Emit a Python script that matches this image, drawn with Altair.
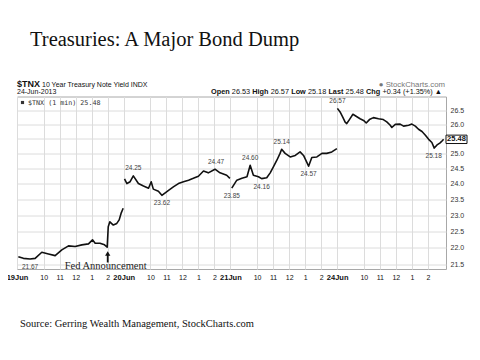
import altair as alt
import pandas as pd

# ---------------- data ----------------
title_text = "Treasuries: A Major Bond Dump"
source_text = "Source: Gerring Wealth Management, StockCharts.com"
day_labels = ["19Jun", "20Jun", "21Jun", "24Jun"]
hour_ticks = [10, 11, 12, 13, 14]
hour_labels = ["10", "11", "12", "1", "2"]
y_ticks = [21.5, 22.0, 22.5, 23.0, 23.5, 24.0, 24.5, 25.0, 25.5, 26.0, 26.5]

times_19 = ["08:25", "08:44", "09:09", "09:28", "09:53", "10:18", "10:43", "11:08", "11:33", "11:58",
            "12:23", "12:48", "13:03", "13:13", "13:31", "13:48", "13:58", "14:02", "14:08", "14:21",
            "14:34", "14:43", "14:50", "14:58"]
yield_19 = [21.74, 21.69, 21.67, 21.69, 21.87, 21.82, 21.77, 21.94, 22.06, 22.04,
            22.09, 22.12, 22.24, 22.14, 22.14, 22.09, 22.02, 22.64, 22.79, 22.69,
            22.74, 22.85, 23.05, 23.21]

times_20 = ["08:23", "08:32", "08:44", "08:56", "09:15", "09:34", "09:53", "10:03", "10:11", "10:30",
            "10:43", "11:08", "11:26", "11:45", "12:04", "12:23", "12:41", "13:00", "13:19", "13:37",
            "14:02", "14:21", "14:46", "14:58"]
yield_20 = [24.15, 24.00, 24.06, 24.25, 24.00, 23.92, 23.85, 24.06, 23.82, 23.75,
            23.62, 23.78, 23.89, 24.00, 24.06, 24.11, 24.17, 24.24, 24.41, 24.35,
            24.47, 24.35, 24.27, 24.17]

times_21 = ["08:25", "08:44", "09:03", "09:22", "09:34", "09:46", "10:05", "10:17", "10:36", "10:49",
            "11:01", "11:14", "11:26", "11:32", "11:45", "12:04", "12:23", "12:41", "12:54", "13:13",
            "13:25", "13:44", "14:03", "14:21", "14:40", "14:59"]
yield_21 = [23.85, 24.11, 24.17, 24.22, 24.60, 24.27, 24.22, 24.16, 24.19, 24.35,
            24.55, 24.77, 25.00, 25.14, 25.00, 24.88, 24.93, 25.05, 24.93, 24.57,
            24.86, 24.88, 25.00, 25.00, 25.05, 25.16]

times_24 = ["08:21", "08:31", "08:41", "08:50", "08:56", "09:06", "09:19", "09:31", "09:46", "09:59",
            "10:09", "10:21", "10:36", "10:55", "11:13", "11:26", "11:39", "11:45", "11:58", "12:16",
            "12:29", "12:48", "13:00", "13:13", "13:25", "13:38", "13:50", "14:03", "14:15", "14:24",
            "14:36", "14:46", "14:55", "14:59"]
yield_24 = [26.57, 26.44, 26.26, 26.08, 26.03, 26.17, 26.36, 26.29, 26.20, 26.14,
            26.05, 26.17, 26.24, 26.20, 26.17, 26.09, 25.97, 25.89, 26.00, 26.01,
            25.94, 25.97, 26.01, 25.94, 25.83, 25.75, 25.63, 25.48, 25.37, 25.18,
            25.30, 25.36, 25.44, 25.48]

ann_day = [0, 1, 1, 1, 2, 2, 2, 2, 2, 3, 3]
ann_time = ["09:09", "08:56", "10:43", "14:06", "08:25", "09:34", "10:17", "11:32", "13:13", "08:21", "14:22"]
ann_value = [21.67, 24.25, 23.62, 24.47, 23.85, 24.60, 24.16, 25.14, 24.57, 26.57, 25.18]
ann_kind = ["low", "high", "low", "high", "low", "high", "low", "high", "low", "high", "low"]

fed_day, fed_time, fed_label = 0, "14:00", "Fed Announcement"
last_value = 25.48

header_left = ["$TNX", "10 Year Treasury Note Yield INDX"]
date_text = "24-Jun-2013"
quote_words = ["Open", "26.53", "High", "26.57", "Low", "25.18", "Last", "25.48", "Chg", "+0.34 (+1.35%) \u25b2"]
legend_text = "$TNX (1 min) 25.48"
brand_text = "\u25cf StockCharts.com"

# ---------------- helpers ----------------
SESSION_START = 8 + 20 / 60
SESSION_LEN = 15 - SESSION_START


def pos(day, t):
    h, m = map(int, t.split(":"))
    return day * SESSION_LEN + h + m / 60 - SESSION_START


rows = []
for d, (ts, vs) in enumerate([(times_19, yield_19), (times_20, yield_20),
                              (times_21, yield_21), (times_24, yield_24)]):
    for t, v in zip(ts, vs):
        rows.append({"pos": pos(d, t), "value": v, "day": day_labels[d]})
df = pd.DataFrame(rows)

ann_df = pd.DataFrame({
    "pos": [pos(d, t) for d, t in zip(ann_day, ann_time)],
    "value": ann_value,
    "label": [f"{v:.2f}" for v in ann_value],
    "kind": ann_kind,
})

tick_vals, tick_text, day_starts = [], [], []
for d, lab in enumerate(day_labels):
    p0 = d * SESSION_LEN
    tick_vals.append(round(p0, 4)); tick_text.append(lab); day_starts.append(round(p0, 4))
    for h, hl in zip(hour_ticks, hour_labels):
        tick_vals.append(round(p0 + h - SESSION_START, 4)); tick_text.append(hl)

label_expr = ""
for v, t in zip(tick_vals, tick_text):
    label_expr += f"abs(datum.value - {v}) < 0.01 ? '{t}' : "
label_expr += "''"
bold_test = " || ".join(f"abs(datum.value - {v}) < 0.01" for v in day_starts)

W, H = 429, 172.5
FONT = "Liberation Sans"

x_scale = alt.Scale(domain=[0, 26.8], nice=False, zero=False)
y_scale = alt.Scale(type="log", domain=[21.38, 27.0], nice=False, zero=False)

x_axis = alt.Axis(values=tick_vals, labelExpr=label_expr, grid=True, gridColor="#dcdcdc",
                  tickSize=0, domain=False, labelPadding=4, labelFont=FONT,
                  labelFontSize={"condition": {"test": bold_test, "value": 7.5}, "value": 7},
                  labelFontWeight={"condition": {"test": bold_test, "value": "bold"}, "value": "normal"},
                  labelColor="#111", labelOverlap=False, labelFlush=False, title=None)
y_axis = alt.Axis(orient="right", values=y_ticks,
                  labelExpr="datum.value == 25.5 ? '' : format(datum.value, '.1f')",
                  grid=True, gridColor="#dcdcdc", tickSize=0, domain=False, labelPadding=4,
                  labelFont=FONT, labelFontSize=7, labelColor="#333", labelOverlap=False,
                  labelFlush=False, title=None)

X = alt.X("pos:Q", scale=x_scale, axis=x_axis)
Y = alt.Y("value:Q", scale=y_scale, axis=y_axis)

line = alt.Chart(df).mark_line(color="#111", strokeWidth=1.6, strokeJoin="round").encode(
    x=X, y=Y, detail="day:N")

highs = alt.Chart(ann_df[ann_df.kind == "high"]).mark_text(
    dy=-7.5, fontSize=6.5, font=FONT, color="#444", baseline="middle").encode(x=X, y=Y, text="label:N")
lows = alt.Chart(ann_df[ann_df.kind == "low"]).mark_text(
    dy=8, fontSize=6.5, font=FONT, color="#444", baseline="middle").encode(x=X, y=Y, text="label:N")

fed_df = pd.DataFrame({"pos": [pos(fed_day, fed_time)], "label": [fed_label]})
fed_rule = alt.Chart(fed_df).mark_rule(color="#111", strokeWidth=1.8).encode(
    x=X, y=alt.value(158), y2=alt.value(166))
fed_head = alt.Chart(fed_df).mark_point(shape="triangle-up", filled=True, size=28, color="#111",
                                        opacity=1).encode(x=X, y=alt.value(157))
fed_text = alt.Chart(fed_df).mark_text(font="Liberation Serif", fontSize=10.5, color="#222",
                                       baseline="middle", dx=-2).encode(
    x=X, y=alt.value(169.5), text="label:N")

last_df = pd.DataFrame({"value": [last_value], "label": [f"{last_value:.2f}"]})
last_box = alt.Chart(last_df).mark_point(
    shape="M-1,-0.4L1,-0.4L1,0.4L-1,0.4Z", size=441, filled=True, fill="white",
    stroke="#111", strokeWidth=1, opacity=1).encode(x=alt.value(439.5), y=Y)
last_txt = alt.Chart(last_df).mark_text(fontSize=7.5, fontWeight="bold", font=FONT, color="#111",
                                        baseline="middle").encode(x=alt.value(439.5), y=Y, text="label:N")


def label(text, x, y, size, weight="normal", font=FONT, color="#111", align="left"):
    return alt.Chart(pd.DataFrame({"t": [text]})).mark_text(
        fontSize=size, fontWeight=weight, font=font, color=color, align=align,
        baseline="alphabetic").encode(x=alt.value(x), y=alt.value(y), text="t:N")


texts = [
    label(title_text, 13, -51, 20.5, font="Liberation Serif", color="#111"),
    label(header_left[0], 0, -10, 9, weight="bold"),
    label(header_left[1], 25, -10, 7),
    label(date_text, 0, -2.5, 7),
    label(brand_text, 428, -10, 7.8, color="#777", align="right"),
    label(legend_text, 11, 8.5, 6.7, font="DejaVu Sans Mono", color="#333"),
    label(source_text, 3, 230, 10.5, font="Liberation Serif", color="#111"),
]

# approximate Arial advance widths (em) to lay the quote row out word by word
REG = {**{c: 0.556 for c in "0123456789"}, ".": 0.278, "+": 0.584, "(": 0.333, ")": 0.333,
       "%": 0.889, " ": 0.278, "\u25b2": 0.77}
BOLD = {"O": 0.778, "p": 0.611, "e": 0.556, "n": 0.611, "H": 0.722, "i": 0.278, "g": 0.611,
        "h": 0.611, "L": 0.611, "o": 0.611, "w": 0.778, "a": 0.556, "s": 0.556, "t": 0.333,
        "C": 0.722}
Q_SIZE = 7.3
qx = 194.0
for i, w in enumerate(quote_words):
    bold = i % 2 == 0
    texts.append(label(w, qx, -2.5, Q_SIZE, weight="bold" if bold else "normal"))
    table = BOLD if bold else REG
    qx += sum(table.get(c, 0.556) for c in w) * Q_SIZE + 0.3 * Q_SIZE

legend_icon = alt.Chart(pd.DataFrame({"t": [0]})).mark_point(
    shape="square", size=10, filled=True, color="#333", opacity=1).encode(
    x=alt.value(5.5), y=alt.value(6))

chart = alt.layer(line, highs, lows, fed_rule, fed_head, fed_text, last_box, last_txt,
                  legend_icon, *texts).properties(
    width=W, height=H,
    autosize=alt.AutoSizeParams(type="none"),
    padding={"left": 9, "top": 88.5, "right": 26, "bottom": 83},
    background="white",
).configure_view(stroke="#a8a8a8", strokeWidth=1)

chart.save("out.html", embed_options={"renderer": "svg", "actions": False})
